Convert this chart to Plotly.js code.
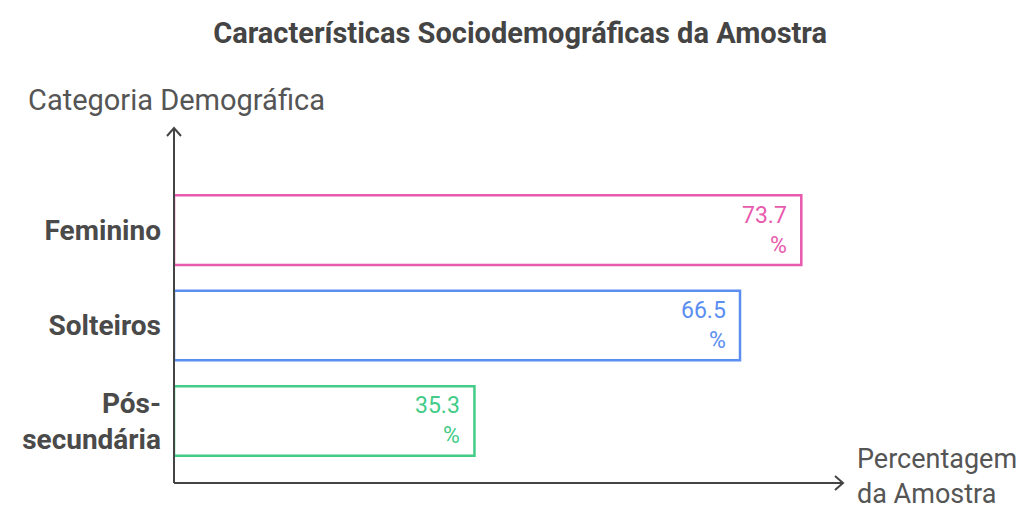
<!DOCTYPE html>
<html><head><meta charset="utf-8">
<script src="https://cdn.plot.ly/plotly-3.0.1.min.js"></script>
<style>body{margin:0;background:#fff}#chart{width:1034px;height:511px}</style>
</head><body><div id="chart"></div>
<script>
const categories = ["Pós-<br>secundária", "Solteiros", "Feminino"];
const values = [35.3, 66.5, 73.7];
const colors = ["#43cc88", "#5a8ef0", "#e85aad"];
const labels = values.map(v => v.toFixed(1) + "<br>%");

const W = 1034, H = 511;
const L = 174, R = 191, T = 128, B = 28;
const pw = W - L - R, ph = H - T - B;
const px = d => d / pw, py = d => d / ph;
const axisColor = "#444";

const annotations = labels.map((t, i) => ({
  x: values[i], y: categories[i], xref: "x", yref: "y",
  text: t, showarrow: false, xanchor: "right", yanchor: "middle",
  align: "right", xshift: -12,
  font: {family: "Roboto, sans-serif", size: 23, color: colors[i]}
}));
annotations.push({
  xref: "paper", yref: "paper", x: px(-148), y: 1 + py(28), xanchor: "left", yanchor: "middle",
  text: "Categoria Demográfica", showarrow: false,
  font: {family: "Roboto, sans-serif", size: 29, color: "#555"}
});
annotations.push({
  xref: "paper", yref: "paper", x: 1 + px(12), y: py(7), xanchor: "left", yanchor: "middle",
  text: "Percentagem<br>da Amostra", showarrow: false, align: "left",
  font: {family: "Roboto, sans-serif", size: 27, color: "#555"}
});

const shapes = [
  {type: "line", xref: "paper", yref: "paper", x0: 0, y0: 0, x1: 1, y1: 0, line: {color: axisColor, width: 2}},
  {type: "line", xref: "paper", yref: "paper", x0: 0, y0: 0, x1: 0, y1: 1, line: {color: axisColor, width: 2}},
  {type: "path", xref: "paper", yref: "paper",
   path: `M ${px(-7)} ${1 - py(8)} L 0 1 L ${px(7)} ${1 - py(8)}`, line: {color: axisColor, width: 2}},
  {type: "path", xref: "paper", yref: "paper",
   path: `M ${1 - px(8)} ${py(7)} L 1 0 L ${1 - px(8)} ${py(-7)}`, line: {color: axisColor, width: 2}}
];

const trace = {
  type: "bar", orientation: "h", x: values, y: categories,
  width: 0.73,
  marker: {color: "#fff", line: {color: colors, width: 2.5}},
  hoverinfo: "none"
};

const layout = {
  width: W, height: H,
  margin: {l: L, r: R, t: T, b: B, pad: 0},
  paper_bgcolor: "#fff", plot_bgcolor: "#fff",
  showlegend: false,
  title: {text: "<b>Características Sociodemográficas da Amostra</b>",
    x: 0.503, xanchor: "center", y: 0.935, yanchor: "middle",
    font: {family: "Roboto, sans-serif", size: 29, color: "#444"}},
  xaxis: {range: [0, 78.6], showgrid: false, zeroline: false, showline: false,
    showticklabels: false, ticks: "", fixedrange: true},
  yaxis: {type: "category", categoryarray: categories, range: [-0.65, 3.07],
    showgrid: false, zeroline: false, showline: false, ticks: "",
    ticklabelstandoff: 12,
    tickfont: {family: "Roboto, sans-serif", size: 28, color: "#4a4a4a", weight: "bold"}},
  annotations: annotations,
  shapes: shapes
};

Plotly.newPlot("chart", [trace], layout, {displayModeBar: false, staticPlot: true});
</script></body></html>
